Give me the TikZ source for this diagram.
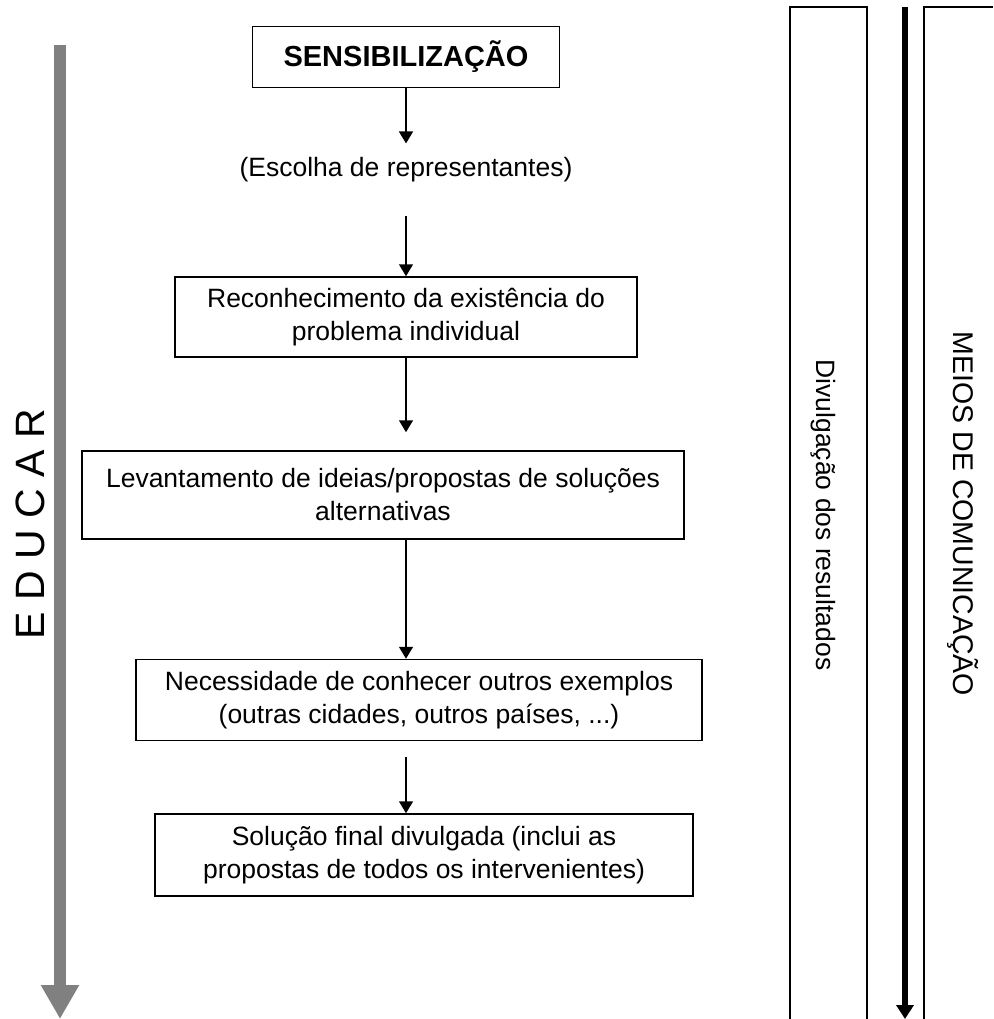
\documentclass[tikz,border=0pt]{standalone}
\usepackage{fontspec}
\setmainfont{Liberation Sans}
\usetikzlibrary{arrows.meta,positioning}

\begin{document}
\begin{tikzpicture}[
        x=1pt, y=-1pt,
        every node/.style={font=\fontsize{26.5}{33}\selectfont},
        box/.style={draw, line width=1.5pt, align=center, inner sep=0pt},
        flow/.style={line width=1.5pt, -{Triangle[length=12pt,width=14pt]}},
        column/.style={draw, line width=1.6pt},
        educar/.style={line width=12pt, draw={rgb,255:red,128;green,128;blue,128},
            -{Triangle[length=34pt,width=36pt]}},
        media/.style={line width=5.5pt, -{Triangle[length=14pt,width=17pt]}}
        ]
    \useasboundingbox (0,0) rectangle (993,1019);

    % main sequence
    \node[box, minimum width=307pt, minimum height=61pt,
        font=\fontsize{29}{33}\selectfont\bfseries] (sens) at (406,57) {SENSIBILIZAÇÃO};
    \node[inner sep=0pt] (escolha) at (406,170) {(Escolha de representantes)};
    \node[box, minimum width=462pt, minimum height=80pt] (recon) at (406,317)
        {Reconhecimento da existência do\\problema individual};
    \node[box, minimum width=602pt, minimum height=88pt] (levant) at (383,495)
        {Levantamento de ideias/propostas de soluções\\alternativas};
    \node[box, minimum width=566pt, minimum height=81pt] (neces) at (419,700)
        {Necessidade de conhecer outros exemplos\\(outras cidades, outros países, ...)};
    \node[box, minimum width=538pt, minimum height=82pt] (solucao) at (424,855)
        {Solução final divulgada (inclui as\\propostas de todos os intervenientes)};

    \coordinate (spine) at (406,0);
    \draw[flow, shorten >=14pt] (spine |- sens.south) -- (spine |- escolha.north);
    \draw[flow, shorten <=33pt] (spine |- escolha.south) -- (spine |- recon.north);
    \draw[flow, shorten >=18pt] (spine |- recon.south) -- (spine |- levant.north);
    \draw[flow] (spine |- levant.south) -- (spine |- neces.north);
    \draw[flow, shorten <=16pt] (spine |- neces.south) -- (spine |- solucao.north);

    % left: educar
    \coordinate (edtop) at (60,45);
    \coordinate (edbot) at (60,1019);
    \draw[educar] (edtop) -- (edbot);
    \node[rotate=90, font=\fontsize{41}{41}\selectfont] (educarlbl) at (30,524) {E D U C A R};

    % right columns
    \draw[column] (790,1019) -- (790,7) -- (867,7) -- (867,1019);
    \node[rotate=-90, font=\fontsize{26.5}{26.5}\selectfont] (divulg) at (823,515) {Divulgação dos resultados};
    \coordinate (medtop) at (905,7);
    \coordinate (medbot) at (905,1019);
    \draw[media] (medtop) -- (medbot);
    \draw[column] (924,1019) -- (924,7) -- (993,7);
    \node[rotate=-90, font=\fontsize{28.5}{28.5}\selectfont] (meios) at (963,514) {MEIOS DE COMUNICAÇÃO};
\end{tikzpicture}
\end{document}
